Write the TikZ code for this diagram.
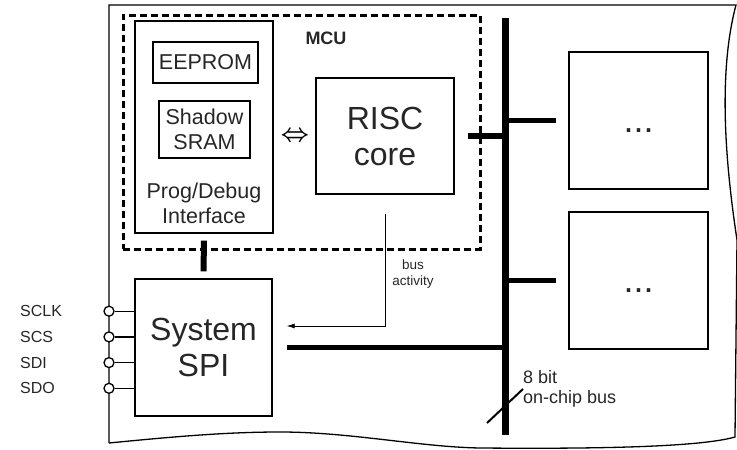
\documentclass[tikz,border=0pt]{standalone}
\usepackage{amsmath}
\usepackage{fontspec}
\setmainfont{Liberation Sans}
\usetikzlibrary{arrows.meta}
\newcommand{\boxLine}{1.4pt}
\newcommand{\stubLine}{5.5pt}
\newcommand{\bigFont}{\fontsize{32}{36}\selectfont}
\newcommand{\midFont}{\fontsize{21.5}{25}\selectfont}
\newcommand{\pinFont}{\fontsize{16}{19}\selectfont}
\newcommand{\smallFont}{\fontsize{13.5}{15.5}\selectfont}
\newcommand{\busFont}{\fontsize{18}{20}\selectfont}
\newcommand{\dotFont}{\fontsize{36}{40}\selectfont}

\begin{document}
\begin{tikzpicture}[x=1pt, y=-1pt,
    block/.style={draw, line width=\boxLine, inner sep=0pt, align=center, text=black!85},
    pinring/.style={draw, circle, fill=white, line width=1.3pt, minimum size=10pt, inner sep=0pt},
    pintext/.style={anchor=west, inner sep=0pt, font=\pinFont, text=black!85}]
\useasboundingbox (0,0) rectangle (737,450);
% chip outline
\draw[line width=1.3pt] (109,443) -- (109,5) -- (736,5)
   .. controls (716,80) and (728,180) .. (737,240) -- (735,437)
   .. controls (700,447) and (600,449) .. (480,448)
   .. controls (420,447) and (350,432) .. (280,432)
   .. controls (230,432) and (180,436) .. (109,443);

\node[draw, line width=3pt, dash pattern=on 7pt off 4pt, minimum width=357pt, minimum height=234pt, inner sep=0pt] (mcu) at (301.5,132) {};
\node[font=\fontsize{18}{20}\selectfont\bfseries, text=black!85] (mcutxt) at (326,38) {MCU};

\node[block, minimum width=138pt, minimum height=212pt] (prog) at (204,127) {};
\node[block, minimum width=105pt, minimum height=41pt, font=\midFont] (eeprom) at (205.5,62.5) {EEPROM};
\node[block, minimum width=91pt, minimum height=57pt, font=\midFont] (sram) at (204.5,129.5) {Shadow\\SRAM};
\node[font=\midFont, align=center, text=black!85] (progtxt) at (204,203) {Prog/Debug\\Interface};
\node[block, minimum width=138pt, minimum height=116pt, font=\bigFont] (risc) at (385,136) {RISC\\core};
\node[block, minimum width=137pt, minimum height=137pt, font=\bigFont] (spi) at (203.5,347.5) {System\\SPI};
\node[block, minimum width=139pt, minimum height=137pt, font=\dotFont] (per1) at (638.5,120.5) {\vphantom{A}...};
\node[block, minimum width=139pt, minimum height=137pt, font=\dotFont] (per2) at (638.5,280.5) {\vphantom{A}...};

% on-chip bus
\node[fill, minimum width=7pt, minimum height=417pt, inner sep=0pt] (bus) at (505,226.5) {};
\draw[line width=\stubLine] ([xshift=13pt]risc.east) -- (risc.east -| bus.center);
\draw[line width=\stubLine] (per1.west -| bus.center) -- ([xshift=-12pt]per1.west);
\draw[line width=\stubLine] (per2.west -| bus.center) -- ([xshift=-12pt]per2.west);
\draw[line width=5pt] ([xshift=14pt]spi.east) -- (spi.east -| bus.center);
\draw[line width=6pt] ([yshift=-7pt]prog.south) -- ([yshift=7pt]spi.north);

% prog <-> risc
\node[inner sep=0pt, font=\fontsize{27}{27}\selectfont] (linkarrow) at (295,137) {$\boldsymbol{\Leftrightarrow}$};

% bus activity
\draw[line width=0.8pt, -{Latex[length=8pt,width=5pt]}] ([yshift=-19pt]risc.south) |- ([xshift=14pt,yshift=21.5pt]spi.east);
\node[font=\smallFont, align=center, text=black!85, inner sep=0pt] (acttxt) at (413,274) {bus\\activity};

% pins
\foreach \pinName [count=\i] in {SCLK,SCS,SDI,SDO} {
  \node[pinring] (pin\i) at (109,285.5+25.7*\i) {};
  \node[pintext] (pinlab\i) at (20,285.5+25.7*\i) {\pinName};
  \draw[line width=1.3pt] (pin\i) -- (pin\i -| spi.west);
}

% bus width
\coordinate (slashMid) at (bus.center |- 0,406);
\draw[line width=2pt] ([shift={(-18,17)}]slashMid) -- ([shift={(18,-17)}]slashMid);
\node[anchor=north west, align=left, font=\busFont, inner sep=0pt, text=black!85] (buslabel) at (523,370) {8 bit\\on-chip bus};
\end{tikzpicture}
\end{document}
